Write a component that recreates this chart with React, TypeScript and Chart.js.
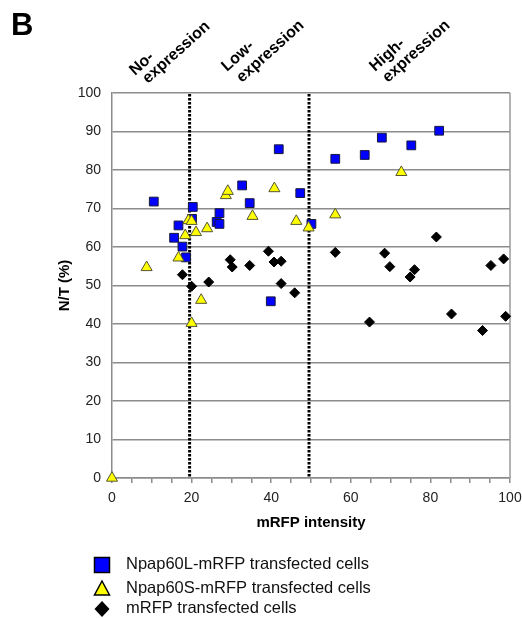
import React, { useEffect, useRef } from "react";
import { Chart, registerables } from "chart.js";

Chart.register(...registerables);

// ---- data ----
const seriesNames = [
  "Npap60L-mRFP transfected cells",
  "Npap60S-mRFP transfected cells",
  "mRFP transfected cells",
];

const npap60LX = [10.5, 16.7, 15.6, 17.7, 18.6, 20.3, 20.1, 26.3, 27, 27, 32.7, 34.6, 41.9, 47.3, 39.9, 50.1, 56.1, 63.5, 67.8, 75.2, 82.2];
const npap60LY = [71.8, 65.6, 62.4, 60.1, 57.3, 70.4, 67.3, 66.5, 68.8, 66, 76, 71.4, 85.4, 74, 45.9, 66, 82.9, 83.9, 88.4, 86.4, 90.2];

const npap60SX = [0, 8.7, 16.7, 18.4, 19.2, 20, 21.1, 23.9, 28.6, 29.1, 35.3, 40.8, 46.3, 49.4, 22.4, 20, 56.1, 72.7];
const npap60SY = [0, 54.7, 57.2, 63, 66.9, 66.7, 63.8, 64.8, 73.4, 74.5, 68, 75.2, 66.7, 65, 46.2, 40.2, 68.4, 79.4];

const mrfpX = [17.7, 20, 24.3, 29.7, 30.2, 34.6, 39.3, 40.7, 42.5, 42.5, 45.9, 56.1, 68.5, 69.8, 74.9, 76, 81.5, 95.2, 98.4, 64.7, 85.3, 93.1, 98.9];
const mrfpY = [52.8, 49.8, 50.9, 56.7, 54.8, 55.2, 58.9, 56.1, 56.3, 50.5, 48.1, 58.6, 58.4, 54.9, 52.2, 54.1, 62.6, 55.2, 56.9, 40.5, 42.6, 38.3, 42];

const dividerX = [19.5, 49.5];
const regionLabels = [
  ["No-", "expression"],
  ["Low-", "expression"],
  ["High-", "expression"],
];
const panelLetter = "B";
const xTitle = "mRFP intensity";
const yTitle = "N/T (%)";

const FONT = "'Liberation Sans', Arial, sans-serif";

const zip = (xs: number[], ys: number[]) => xs.map((x, i) => ({ x, y: ys[i] }));

const annotPlugin = {
  id: "annot",
  beforeDatasetsDraw(chart: any) {
    const { ctx, scales, chartArea } = chart;
    const x = scales.x, y = scales.y;
    ctx.save();
    ctx.strokeStyle = "#9a9a9a";
    ctx.lineWidth = 1.5;
    ctx.beginPath();
    ctx.moveTo(chartArea.right, chartArea.top);
    ctx.lineTo(chartArea.right, chartArea.bottom);
    ctx.stroke();
    ctx.strokeStyle = "#000";
    ctx.lineWidth = 3;
    ctx.setLineDash([2.5, 1.5]);
    for (const v of dividerX) {
      const px = x.getPixelForValue(v);
      ctx.beginPath();
      ctx.moveTo(px, y.getPixelForValue(100) + 1);
      ctx.lineTo(px, y.getPixelForValue(0));
      ctx.stroke();
    }
    ctx.restore();
  },
  afterDraw(chart: any) {
    const { ctx, chartArea } = chart;
    ctx.save();
    ctx.fillStyle = "#000";
    ctx.font = `bold 31px ${FONT}`;
    ctx.textAlign = "left";
    ctx.textBaseline = "alphabetic";
    ctx.fillText(panelLetter, 11, 35);

    const starts = [
      [[135, 76], [148, 84]],
      [[227, 72], [242, 83]],
      [[375, 72], [388, 83]],
    ];
    ctx.font = `bold 16px ${FONT}`;
    regionLabels.forEach((lines, i) => {
      lines.forEach((t, j) => {
        const [sx, sy] = starts[i][j];
        ctx.save();
        ctx.translate(sx, sy);
        ctx.rotate((-42 * Math.PI) / 180);
        ctx.fillText(t, 0, 0);
        ctx.restore();
      });
    });

    ctx.font = `bold 15px ${FONT}`;
    ctx.textAlign = "center";
    ctx.textBaseline = "middle";
    ctx.fillText(xTitle, (chartArea.left + chartArea.right) / 2, 523);
    ctx.save();
    ctx.translate(65, (chartArea.top + chartArea.bottom) / 2);
    ctx.rotate(-Math.PI / 2);
    ctx.fillText(yTitle, 0, 0);
    ctx.restore();

    const lx = 102;
    const ly = [565, 589, 609];
    ctx.lineWidth = 1.5;
    ctx.strokeStyle = "#000";
    ctx.fillStyle = "#0000ff";
    ctx.beginPath();
    ctx.rect(lx - 7.5, ly[0] - 7.5, 15, 15);
    ctx.fill();
    ctx.stroke();
    ctx.fillStyle = "#ffff00";
    ctx.beginPath();
    ctx.moveTo(lx, ly[1] - 8);
    ctx.lineTo(lx + 7.5, ly[1] + 6);
    ctx.lineTo(lx - 7.5, ly[1] + 6);
    ctx.closePath();
    ctx.fill();
    ctx.stroke();
    ctx.fillStyle = "#000";
    ctx.beginPath();
    ctx.moveTo(lx, ly[2] - 8);
    ctx.lineTo(lx + 7.5, ly[2]);
    ctx.lineTo(lx, ly[2] + 8);
    ctx.lineTo(lx - 7.5, ly[2]);
    ctx.closePath();
    ctx.fill();

    ctx.font = `16.5px ${FONT}`;
    ctx.textAlign = "left";
    ctx.textBaseline = "middle";
    ctx.fillStyle = "#111";
    seriesNames.forEach((n, i) => ctx.fillText(n, 126, ly[i] - 1));
    ctx.restore();
  },
};

export default function App() {
  const ref = useRef<HTMLCanvasElement>(null);
  useEffect(() => {
    if (!ref.current) return;
    const chart = new Chart(ref.current, {
      type: "scatter",
      data: {
        datasets: [
          {
            label: seriesNames[0],
            data: zip(npap60LX, npap60LY),
            pointStyle: "rect",
            pointRadius: 6.2,
            backgroundColor: "#0000ff",
            borderColor: "#1a1a3a",
            borderWidth: 1,
            order: 3,
            clip: false,
          },
          {
            label: seriesNames[1],
            data: zip(npap60SX, npap60SY),
            pointStyle: "triangle",
            pointRadius: 6.4,
            backgroundColor: "#ffff00",
            borderColor: "#555533",
            borderWidth: 1,
            order: 2,
            clip: false,
          },
          {
            label: seriesNames[2],
            data: zip(mrfpX, mrfpY),
            pointStyle: "rectRot",
            pointRadius: 5,
            backgroundColor: "#000",
            borderColor: "#000",
            borderWidth: 1,
            order: 1,
            clip: false,
          },
        ],
      },
      options: {
        responsive: false,
        animation: false,
        devicePixelRatio: 1,
        layout: { padding: { top: 93, right: 12, left: 0, bottom: 0 } },
        plugins: { legend: { display: false }, tooltip: { enabled: false } },
        scales: {
          x: {
            type: "linear",
            min: 0,
            max: 100,
            afterFit: (s: any) => {
              s.height = 140;
              s.paddingRight = 0;
              s.paddingLeft = 0;
            },
            border: { color: "#8c8c8c", width: 1.5 },
            grid: { drawOnChartArea: false, drawTicks: true, tickLength: 5, color: "#8c8c8c", lineWidth: 1.5 },
            ticks: {
              stepSize: 5,
              autoSkip: false,
              maxRotation: 0,
              padding: 7,
              color: "#222",
              font: { family: FONT, size: 14 },
              callback: (v: any) => (Number(v) % 20 === 0 ? String(v) : ""),
            },
          },
          y: {
            type: "linear",
            min: 0,
            max: 100,
            afterFit: (s: any) => {
              s.width = 112;
            },
            border: { color: "#8c8c8c", width: 1.5 },
            grid: { drawTicks: false, color: "#8c8c8c", lineWidth: 1.5 },
            ticks: {
              stepSize: 10,
              padding: 11,
              color: "#222",
              font: { family: FONT, size: 14 },
            },
          },
        },
      },
      plugins: [annotPlugin],
    });
    return () => chart.destroy();
  }, []);
  return (
    <div style={{ position: "fixed", left: 0, top: 0, width: 522, height: 618, background: "#fff" }}>
      <canvas ref={ref} width={522} height={618} style={{ width: 522, height: 618, display: "block" }} />
    </div>
  );
}
